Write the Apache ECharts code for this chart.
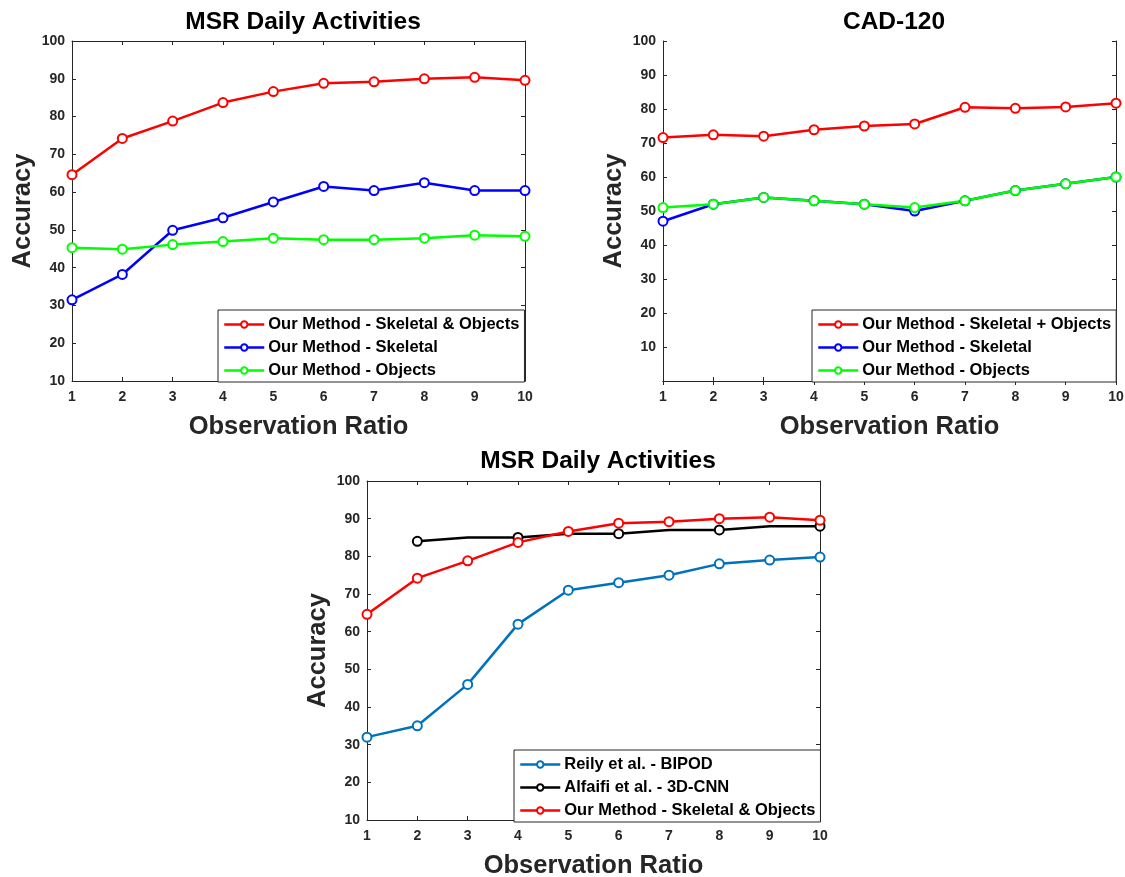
<!DOCTYPE html>
<html><head><meta charset="utf-8">
<script src="https://cdn.jsdelivr.net/npm/echarts@6/dist/echarts.min.js"></script>
<style>html,body{margin:0;padding:0;background:#fff}#c{width:1125px;height:877px}</style>
</head><body><div id="c"></div>
<script>
const ratios = ['1','2','3','4','5','6','7','8','9','10'];
// Chart 1: MSR Daily Activities
const msrSkelObj = [64.6, 74.2, 78.8, 83.7, 86.6, 88.8, 89.2, 90.0, 90.4, 89.6];
const msrSkel = [31.5, 38.2, 49.9, 53.2, 57.4, 61.5, 60.4, 62.5, 60.4, 60.4];
const msrObj = [45.3, 44.9, 46.1, 46.9, 47.8, 47.4, 47.4, 47.8, 48.6, 48.3];
// Chart 2: CAD-120
const cadSkelObj = [71.6, 72.4, 72.0, 73.9, 75.0, 75.6, 80.5, 80.2, 80.6, 81.7];
const cadSkel = [47, 52, 54, 53, 52, 50, 53, 56, 58, 60];
const cadObj = [51, 52, 54, 53, 52, 51, 53, 56, 58, 60];
// Chart 3: comparison
const reily = [32, 35, 46, 62, 71, 73, 75, 78, 79, 79.8];
const alfaifi = [null, 84, 85, 85, 86, 86, 87, 87, 88, 88];
const alfaifiMarked = [false, true, false, true, false, true, false, true, false, true];

const AX = '#262626';
const FONT = 'Liberation Sans, Arial, sans-serif';
const grids = [
  {left: 72, top: 41, width: 453, height: 340, outerBoundsMode: 'none', containLabel: false},
  {left: 663, top: 41, width: 453, height: 340, outerBoundsMode: 'none', containLabel: false},
  {left: 367, top: 481, width: 453, height: 339, outerBoundsMode: 'none', containLabel: false}
];
const yMins = [10, 0, 10];
const xAxes = [], yAxes = [];
grids.forEach((g, i) => {
  xAxes.push({gridIndex: i, type: 'category', data: ratios, boundaryGap: false, position: 'bottom',
    axisLine: {lineStyle: {color: AX, width: 1}}, axisTick: {inside: true, length: 4, lineStyle: {color: AX}},
    axisLabel: {color: AX, fontWeight: 'bold', fontSize: 14, fontFamily: FONT, margin: 9},
    splitLine: {show: false},
    name: 'Observation Ratio', nameLocation: 'middle', nameGap: 33,
    nameTextStyle: {color: AX, fontWeight: 'bold', fontSize: 25.5, fontFamily: FONT}});
  xAxes.push({gridIndex: i, type: 'category', data: ratios, boundaryGap: false, position: 'top',
    axisLine: {lineStyle: {color: AX, width: 1}}, axisTick: {inside: true, length: 4, lineStyle: {color: AX}},
    axisLabel: {show: false}, splitLine: {show: false}});
  yAxes.push({gridIndex: i, type: 'value', min: yMins[i], max: 100, interval: 10, position: 'left',
    axisLine: {show: true, lineStyle: {color: AX, width: 1}}, axisTick: {show: true, inside: true, length: 4, lineStyle: {color: AX}},
    axisLabel: {color: AX, fontWeight: 'bold', fontSize: 14, fontFamily: FONT, margin: 7,
      formatter: v => (v === 0 ? '' : String(v))},
    splitLine: {show: false},
    name: 'Accuracy', nameLocation: 'middle', nameGap: 36,
    nameTextStyle: {color: AX, fontWeight: 'bold', fontSize: 25.5, fontFamily: FONT}});
  yAxes.push({gridIndex: i, type: 'value', min: yMins[i], max: 100, interval: 10, position: 'right',
    axisLine: {show: true, lineStyle: {color: AX, width: 1}}, axisTick: {show: true, inside: true, length: 4, lineStyle: {color: AX}},
    axisLabel: {show: false}, splitLine: {show: false}});
});

function mk(name, data, color, gi) {
  return {name, type: 'line', data, xAxisIndex: gi * 2, yAxisIndex: gi * 2,
    symbol: 'emptyCircle', symbolSize: 9, showSymbol: true,
    lineStyle: {color, width: 2.5}, itemStyle: {color, borderColor: color, borderWidth: 2},
    emphasis: {disabled: true}, animation: false, connectNulls: false};
}
const alfaifiData = alfaifi.map((v, i) => (v === null ? null : (alfaifiMarked[i] ? v : {value: v, symbol: 'none'})));

const series = [
  mk('Our Method - Skeletal & Objects', msrSkelObj, '#ff0000', 0),
  mk('Our Method - Skeletal', msrSkel, '#0000ff', 0),
  mk('Our Method - Objects', msrObj, '#00ff00', 0),
  mk('Our Method - Skeletal + Objects', cadSkelObj, '#ff0000', 1),
  mk('Our Method - Skeletal ', cadSkel, '#0000ff', 1),
  mk('Our Method - Objects ', cadObj, '#00ff00', 1),
  mk('Reily et al. - BIPOD', reily, '#0072bd', 2),
  mk('Alfaifi et al. - 3D-CNN', alfaifiData, '#000000', 2),
  mk('Our Method - Skeletal & Objects ', msrSkelObj, '#ff0000', 2)
];

function lg(left, top, names) {
  return {left, top, orient: 'vertical', data: names.map(n => ({name: n})), itemWidth: 40, itemHeight: 8, itemGap: 6,
    padding: [6, 5, 3, 5], backgroundColor: '#fff', borderColor: '#262626', borderWidth: 1,
    itemStyle: {borderWidth: 1.5}, lineStyle: {width: 2.5},
    textStyle: {color: '#000', fontWeight: 'bold', fontSize: 16.5, lineHeight: 17, fontFamily: FONT, padding: [0, 0, 0, -1]},
    formatter: n => n.trim(), selectedMode: false};
}

const TS = {fontSize: 24.5, fontWeight: 'bold', color: '#000', fontFamily: FONT};
const option = {
  backgroundColor: '#fff',
  animation: false,
  title: [
    {text: 'MSR Daily Activities', left: 298, top: 5, textAlign: 'center', textStyle: TS},
    {text: 'CAD-120', left: 889, top: 5, textAlign: 'center', textStyle: TS},
    {text: 'MSR Daily Activities', left: 593, top: 444, textAlign: 'center', textStyle: TS}
  ],
  grid: grids,
  xAxis: xAxes,
  yAxis: yAxes,
  legend: [
    lg(218, 310, ['Our Method - Skeletal & Objects', 'Our Method - Skeletal', 'Our Method - Objects']),
    lg(812, 310, ['Our Method - Skeletal + Objects', 'Our Method - Skeletal ', 'Our Method - Objects ']),
    lg(514, 750, ['Reily et al. - BIPOD', 'Alfaifi et al. - 3D-CNN', 'Our Method - Skeletal & Objects '])
  ],
  series
};
const chart = echarts.init(document.getElementById('c'), null, {renderer: 'canvas'});
chart.setOption(option);
</script></body></html>
